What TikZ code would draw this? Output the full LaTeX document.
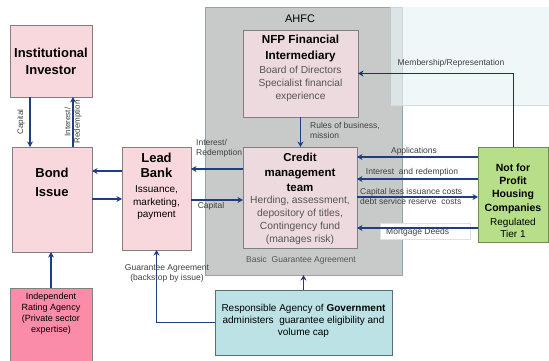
\documentclass[tikz,border=0pt]{standalone}
\usepackage{fontspec}
\setmainfont{Liberation Sans}
\usetikzlibrary{arrows.meta}
\definecolor{pinkbox}{HTML}{F9D8DD}
\definecolor{nfpfill}{HTML}{EDDADE}
\definecolor{ahfcfill}{HTML}{C8C9C9}
\definecolor{ahfcline}{HTML}{8EA6AE}
\definecolor{hotpink}{HTML}{FA8CA8}
\definecolor{greenfill}{HTML}{B7DF8A}
\definecolor{greenline}{HTML}{6E8E50}
\definecolor{govfill}{HTML}{BDE2E5}
\definecolor{govline}{HTML}{56707A}
\definecolor{navy}{HTML}{203C82}
\definecolor{paletint}{HTML}{E8F4F6}
\definecolor{bodygray}{HTML}{555555}
\definecolor{labelgray}{HTML}{404040}
\definecolor{boxline}{HTML}{808080}
\begin{document}
\begin{tikzpicture}[x=1pt,y=-1pt,
  box/.style={rectangle, inner sep=0pt, outer sep=0pt, line width=0.8pt, draw=boxline},
  arr/.style={draw=navy, line width=1.3pt, -{Stealth[length=5.5pt,width=6pt]}},
  lbl/.style={font=\fontsize{8.5}{10}\selectfont, text=labelgray, inner sep=0pt, align=center},
  bigtitle/.style={font=\bfseries\fontsize{13}{17}\selectfont, align=center, inner sep=0pt},
  midtitle/.style={font=\bfseries\fontsize{11.5}{15}\selectfont, align=center, inner sep=0pt},
  graybody/.style={font=\fontsize{10.3}{12.8}\selectfont, text=bodygray, align=center, inner sep=0pt},
  plainbody/.style={font=\fontsize{10}{12.5}\selectfont, align=center, inner sep=0pt}
]
\useasboundingbox (0,0) rectangle (549,360);
\fill[white] (0,0) rectangle (549,360);

% containers
\node[box, draw=ahfcline, fill=ahfcfill, minimum width=197pt, minimum height=268pt] (ahfc) at (303.5,141) {};
\node[box, draw=none, fill=paletint, fill opacity=0.65, minimum width=159pt, minimum height=98pt] (pale) at (469.5,56) {};
\draw[gray!30, line width=0.8pt] (pale.south west) -- (pale.south east);
\draw[ahfcline!60, line width=0.6pt] (pale.north west) -- (pale.south west);
\node[font=\fontsize{11}{13}\selectfont, inner sep=0pt] (ahfct) at (300,19) {AHFC};

% boxes
\node[box, fill=pinkbox, minimum width=82pt, minimum height=72pt] (inv) at (51,61) {};
\node[box, fill=pinkbox, minimum width=80pt, minimum height=105pt] (bond) at (52,199.5) {};
\node[box, fill=pinkbox, minimum width=69pt, minimum height=103pt] (lead) at (156.5,198.5) {};
\node[box, fill=hotpink, minimum width=82pt, minimum height=74pt] (rate) at (51,325) {};
\node[box, fill=nfpfill, minimum width=115pt, minimum height=87pt] (nfp) at (300.5,73.5) {};
\node[box, fill=nfpfill, minimum width=114pt, minimum height=101pt] (cred) at (300,197.5) {};
\node[box, draw=greenline, fill=greenfill, minimum width=70pt, minimum height=95pt] (green) at (513,194.5) {};
\node[box, draw=govline, fill=govfill, minimum width=177pt, minimum height=65pt] (gov) at (303.5,322.5) {};

% box texts
\node[bigtitle] (invt) at (51,61.5) {Institutional\\Investor};
\node[bigtitle, font=\bfseries\fontsize{13}{19}\selectfont] (bondt) at (52,182.5) {Bond\\Issue};
\node[bigtitle, font=\bfseries\fontsize{13}{15}\selectfont] (leadt) at (156.5,165.5) {Lead\\Bank};
\node[plainbody] (leadb) at (156.5,203) {Issuance,\\marketing,\\payment};
\node[midtitle, font=\bfseries\fontsize{11.7}{16}\selectfont] (nfpt) at (300.5,48) {NFP Financial\\Intermediary};
\node[graybody, font=\fontsize{10.2}{13}\selectfont] (nfpb) at (300.5,83.5) {Board of Directors\\Specialist financial\\experience};
\node[midtitle] (credt) at (300,172) {Credit\\management\\team};
\node[graybody] (credb) at (300,220.5) {Herding, assessment,\\depository of titles,\\Contingency fund\\(manages risk)};
\node[midtitle, font=\bfseries\fontsize{10.5}{13.3}\selectfont] (greent) at (513,188.5) {Not for\\Profit\\Housing\\Companies};
\node[plainbody, font=\fontsize{10}{12}\selectfont] (greenb) at (513,227.5) {Regulated\\Tier 1};
\node[plainbody, font=\fontsize{9}{11}\selectfont] (ratet) at (51,314) {Independent\\Rating Agency\\(Private sector\\expertise)};
\node[plainbody, font=\fontsize{10}{12}\selectfont] (govt) at (303.5,320.5) {Responsible Agency of \textbf{Government}\\administers\ \ guarantee eligibility and\\volume cap};

% label background for Mortgage Deeds
\node[rectangle, fill=white, draw=gray!25, line width=0.6pt, minimum width=90pt, minimum height=16pt, inner sep=0pt] (mdbg) at (425,231.5) {};

% connectors
\draw[arr] ([xshift=-21pt]inv.south) -- ([xshift=-22pt]bond.north);
\draw[arr] ([xshift=21pt]bond.north) -- ([xshift=22pt]inv.south);
\draw[arr] ([yshift=27.5pt]lead.west) -- ([yshift=28.5pt]bond.east);
\draw[arr] ([yshift=0.5pt]bond.east) -- ([yshift=-0.5pt]lead.west);
\draw[arr] ([yshift=28.5pt]cred.west) -- ([yshift=29.5pt]lead.east);
\draw[arr] ([yshift=-1.5pt]lead.east) -- ([yshift=-2.5pt]cred.west);
\draw[arr] (rate.north) -- ([xshift=-1pt]bond.south);
\draw[arr] (gov.west) -| (lead.south);
\draw[arr] (gov.north) -- (ahfc.south);
\draw[arr] (nfp.south) -- ([xshift=0.5pt]cred.north);
\draw[arr, draw=navy!80!black, line width=1pt] (green.north) |- (nfp.east);
\draw[arr] ([yshift=37.5pt]green.west) -- ([yshift=40.5pt]cred.east);
\draw[arr] ([yshift=15.5pt]green.west) -- ([yshift=18.5pt]cred.east);
\draw[arr] ([yshift=0.5pt]cred.east) -- ([yshift=-2.5pt]green.west);
\draw[arr] ([yshift=-33.5pt]green.west) -- ([yshift=-30.5pt]cred.east);

% labels
\node[lbl, rotate=90, font=\fontsize{8}{10}\selectfont] (l1) at (21,122) {Capital};
\node[lbl, rotate=90, font=\fontsize{8}{9.5}\selectfont] (l2) at (73,122) {Interest/\\Redemption};
\node[lbl, anchor=north west, align=left] (l3) at (196,139) {Interest/\\Redemption};
\node[lbl] (l4) at (211,206) {Capital};
\node[lbl] (l5) at (167,273) {Guarantee Agreement\\(backstop by issue)};
\node[lbl, anchor=north west, align=left] (l6) at (310,122.5) {Rules of business,\\mission};
\node[lbl, text=bodygray] (l7) at (301,260) {Basic\ \ Guarantee Agreement};
\node[lbl] (l8) at (451,63) {Membership/Representation};
\node[lbl] (l9) at (414,151) {Applications};
\node[lbl] (l10) at (412,172) {Interest\ \ and redemption};
\node[lbl, anchor=west, align=left] (l11) at (360,196) {Capital less issuance costs\\debt service reserve\ \ costs};
\node[lbl, anchor=west] (l12) at (386,232) {Mortgage Deeds};
\end{tikzpicture}
\end{document}
